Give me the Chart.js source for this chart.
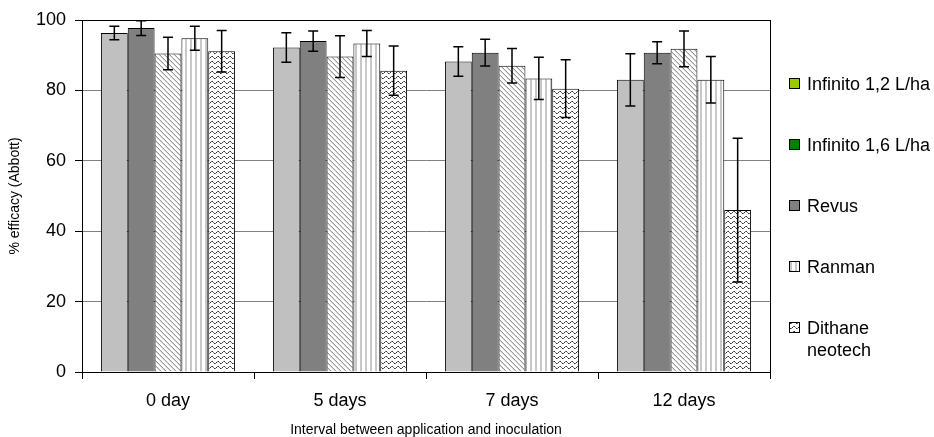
<!DOCTYPE html>
<html>
<head>
<meta charset="utf-8">
<script src="https://cdn.jsdelivr.net/npm/chart.js@4.4.0/dist/chart.umd.min.js"></script>
<style>
  body { margin: 0; background: #fff; }
</style>
</head>
<body>
<canvas id="myCanvas" width="934" height="437"></canvas>
<script>
// data
var categories = ["0 day", "5 days", "7 days", "12 days"];
var seriesNames = ["Infinito 1,2 L/ha", "Infinito 1,6 L/ha", "Revus", "Ranman", "Dithane neotech"];
var infinito12 = [96.3, 92.2, 88.2, 83.0];
var infinito16 = [97.7, 94.0, 90.7, 90.7];
var revus      = [90.5, 89.6, 87.0, 91.8];
var ranman     = [94.8, 93.3, 83.4, 83.0];
var dithane    = [91.1, 85.6, 80.5, 46.0];
var errInfinito12 = [1.9, 4.2, 4.2, 7.4];
var errInfinito16 = [2.1, 2.9, 3.8, 3.1];
var errRevus      = [4.6, 5.9, 4.9, 5.1];
var errRanman     = [3.4, 3.7, 6.0, 6.6];
var errDithane    = [5.9, 7.0, 8.2, 20.4];
var yTicks = [0, 20, 40, 60, 80, 100];

var FONT = "'Liberation Sans', Arial, sans-serif";

function tile(w, h, draw) {
    var c = document.createElement("canvas");
    c.width = w;
    c.height = h;
    var g = c.getContext("2d");
    g.fillStyle = "#fff";
    g.fillRect(0, 0, w, h);
    draw(g);
    return c;
}

var ctx = document.getElementById("myCanvas").getContext("2d");

var diagTile = tile(5, 5, function (g) {
    for (var x = 0; x < 5; x++) {
        g.fillStyle = "#999";
        g.fillRect(x, x, 1, 1);
        g.fillStyle = "#d8d8d8";
        g.fillRect(x, (x + 1) % 5, 1, 1);
    }
});
var vertTile = tile(5, 5, function (g) {
    g.fillStyle = "#c8c8c8";
    g.fillRect(0, 0, 2, 5);
});
var waveTile = tile(6, 5, function (g) {
    var ys = [2, 1, 1, 2, 3, 3];
    for (var x = 0; x < 6; x++) {
        g.fillStyle = (x % 2 == 0) ? "#333" : "#777";
        g.fillRect(x, ys[x], 1, 1);
    }
});

var diagPattern = ctx.createPattern(diagTile, "repeat");
var vertPattern = ctx.createPattern(vertTile, "repeat");
var wavePattern = ctx.createPattern(waveTile, "repeat");

var barFills = ["#c0c0c0", "#808080", diagPattern, vertPattern, wavePattern];
var legendFills = ["#99cc00", "#008000", "#808080", vertPattern, wavePattern];

var values = [infinito12, infinito16, revus, ranman, dithane];
var errors = [errInfinito12, errInfinito16, errRevus, errRanman, errDithane];

var datasets = [];
for (var i = 0; i < values.length; i++) {
    datasets.push({
        label: seriesNames[i],
        data: values[i],
        err: errors[i],
        backgroundColor: barFills[i],
        borderColor: "#000",
        borderWidth: 1,
        categoryPercentage: 0.78,
        barPercentage: 1.0
    });
}

// box around the plot area
var plotBorder = {
    id: "plotBorder",
    beforeDatasetsDraw: function (chart) {
        var a = chart.chartArea;
        var c = chart.ctx;
        c.save();
        c.strokeStyle = "#000";
        c.lineWidth = 1;
        c.strokeRect(Math.round(a.left) + 0.5, Math.round(a.top) + 0.5,
            Math.round(a.right - a.left), Math.round(a.bottom - a.top));
        c.restore();
    }
};

// error bars drawn from the y scale
var errorBars = {
    id: "errorBars",
    afterDatasetsDraw: function (chart) {
        var c = chart.ctx;
        var y = chart.scales.y;
        c.save();
        c.strokeStyle = "#000";
        c.lineWidth = 1.5;
        chart.data.datasets.forEach(function (ds, di) {
            var meta = chart.getDatasetMeta(di);
            meta.data.forEach(function (bar, j) {
                var v = ds.data[j], e = ds.err[j];
                var x = bar.x;
                var y1 = y.getPixelForValue(v + e);
                var y2 = y.getPixelForValue(v - e);
                c.beginPath();
                c.moveTo(x, y1); c.lineTo(x, y2);
                c.moveTo(x - 5, y1); c.lineTo(x + 5, y1);
                c.moveTo(x - 5, y2); c.lineTo(x + 5, y2);
                c.stroke();
            });
        });
        c.restore();
    }
};

// legend on the right, Excel style
var sideLegend = {
    id: "sideLegend",
    afterDraw: function (chart) {
        var c = chart.ctx;
        var rows = [84, 145, 206, 267, 328];
        c.save();
        c.font = "18px " + FONT;
        c.textBaseline = "middle";
        c.fillStyle = "#000";
        for (var i = 0; i < seriesNames.length; i++) {
            var yy = rows[i];
            c.fillStyle = legendFills[i];
            c.fillRect(789, yy - 6, 11, 11);
            c.strokeStyle = "#000";
            c.lineWidth = 1;
            c.strokeRect(789.5, yy - 5.5, 10, 10);
            c.fillStyle = "#000";
            var words = seriesNames[i] == "Dithane neotech" ? ["Dithane", "neotech"] : [seriesNames[i]];
            for (var k = 0; k < words.length; k++) {
                c.fillText(words[k], 807, yy + 1 + k * 22);
            }
        }
        c.restore();
    }
};

var chart = new Chart(ctx, {
    type: "bar",
    data: { labels: categories, datasets: datasets },
    plugins: [plotBorder, errorBars, sideLegend],
    options: {
        responsive: false,
        animation: false,
        layout: { padding: { left: 0, top: 20, right: 164, bottom: 0 } },
        plugins: {
            legend: { display: false },
            tooltip: { enabled: false }
        },
        scales: {
            x: {
                offset: true,
                grid: { display: true, drawOnChartArea: false, offset: true, tickLength: 7, color: "#000" },
                border: { color: "#000" },
                ticks: { color: "#000", font: { family: FONT, size: 18 }, padding: 11, maxRotation: 0 },
                title: {
                    display: true,
                    text: "Interval between application and inoculation",
                    color: "#000",
                    font: { family: FONT, size: 14, lineHeight: 1.0 },
                    padding: { top: 2, bottom: 0 }
                },
                afterFit: function (s) { s.height = 65; }
            },
            y: {
                min: 0,
                max: 100,
                afterBuildTicks: function (s) {
                    s.ticks = yTicks.map(function (v) { return { value: v }; });
                },
                grid: { color: "#808080", tickColor: "#000", tickLength: 7 },
                border: { color: "#000" },
                ticks: { color: "#000", font: { family: FONT, size: 18 }, padding: 9 },
                title: {
                    display: true,
                    text: "% efficacy (Abbott)",
                    color: "#000",
                    font: { family: FONT, size: 14 },
                    padding: { top: 7, bottom: 4 }
                },
                afterFit: function (s) { s.width = 82; }
            }
        }
    }
});
</script>
</body>
</html>
